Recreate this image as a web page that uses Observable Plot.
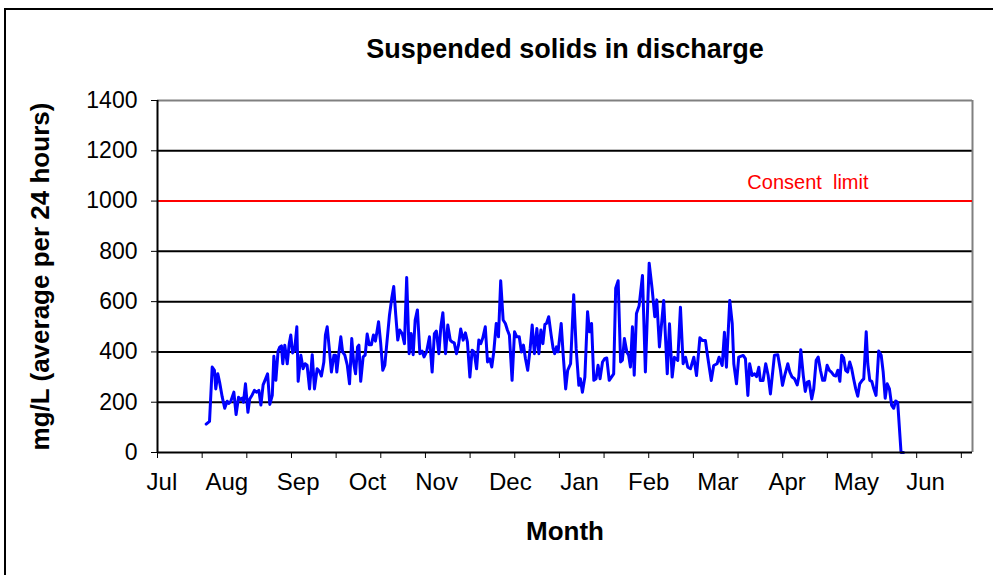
<!DOCTYPE html>
<html>
<head>
<meta charset="utf-8">
<script src="https://cdn.jsdelivr.net/npm/d3@7"></script>
<script src="https://cdn.jsdelivr.net/npm/@observablehq/plot@0.6"></script>
<style>
  html, body { margin: 0; padding: 0; background: #fff; overflow: hidden; }
  #wrap { position: relative; width: 993px; height: 575px; overflow: hidden; background: #fff; }
  #frame { position: absolute; left: 4px; top: 8px; width: 1100px; height: 700px; border: 2px solid #000; box-sizing: border-box; pointer-events: none; }
  #chart { position: absolute; left: 0; top: 0; }
</style>
</head>
<body>
<div id="wrap"><div id="chart"></div><div id="frame"></div></div>
<script>
// Days since 1 July, and suspended solids (mg/L, average per 24 hours)
const days = [
  21.8,23.3,24.5,25.5,26.1,27.0,27.8,29.0,30.1,31.2,31.9,32.8,34.2,35.2,36.3,37.2,37.9,38.5,39.4,40.5,
  41.3,42.4,43.4,44.3,45.4,46.3,47.3,48.4,49.3,50.3,51.4,52.1,53.0,54.0,54.8,55.5,56.1,57.0,58.1,59.0,
  59.7,60.5,61.4,62.4,63.0,64.2,65.2,66.1,67.0,68.1,69.3,70.3,
  71.5,72.5,73.4,74.5,75.2,76.0,77.0,77.9,79.0,79.7,80.3,81.2,82.1,82.9,83.9,85.0,86.0,87.0,87.9,88.7,
  89.6,90.2,91.0,92.1,93.0,93.9,94.8,95.8,96.7,97.6,99.0,99.9,100.9,101.8,102.9,103.9,104.9,105.8,106.7,107.6,
  108.5,109.6,110.6,111.6,112.7,113.6,114.5,115.4,116.4,117.5,118.5,119.4,120.5,121.8,
  123.0,124.0,124.9,126.0,126.9,127.8,129.0,130.0,131.1,131.9,132.9,133.9,134.8,135.8,136.9,137.9,138.8,139.9,140.9,141.8,
  142.9,143.9,144.8,145.7,146.8,147.8,148.8,149.7,150.6,151.7,152.7,153.7,154.8,155.8,156.7,157.6,158.8,159.9,160.9,162.0,
  163.0,163.9,164.8,165.8,166.9,167.8,168.8,169.9,170.8,171.7,172.6,173.5,
  174.2,175.2,176.3,177.2,177.9,178.7,179.4,180.8,181.7,182.8,183.7,185.0,186.4,187.5,188.7,189.4,190.3,191.4,192.6,193.5,
  194.4,195.4,196.4,197.3,198.2,199.3,200.3,201.2,202.3,203.3,204.3,205.2,206.3,207.4,208.2,209.1,210.2,211.0,211.8,212.7,
  213.5,214.5,215.7,217.2,218.5,220.2,221.5,222.7,223.6,224.8,
  226.7,228.3,229.3,230.5,231.5,233.0,234.2,235.4,236.5,237.5,238.7,240.2,241.4,242.9,244.1,245.4,246.2,248.0,249.1,250.6,
  251.5,252.9,253.9,254.8,256.3,257.4,258.1,259.3,260.3,262.3,263.3,264.4,265.2,266.3,267.4,268.3,269.3,270.0,271.2,272.4,
  273.5,274.5,
  276.3,277.8,279.0,279.9,280.9,282.3,283.2,284.2,285.3,286.5,287.2,288.1,289.2,290.1,291.0,291.8,293.0,293.9,295.0,295.9,
  296.9,297.9,298.8,299.9,300.9,301.8,302.9,303.8,304.7,305.6,306.4,307.3,308.2,309.1,310.0,310.9,311.8,312.7,313.6,314.5,
  315.6,316.3,317.4,318.1,319.0,319.9,320.8,321.8,323.0,324.1,325.0,325.9,326.8,327.8,328.8,329.7,330.6,331.5,333.0,334.1
];
const values = [
  113,124,340,327,253,313,280,220,176,204,195,203,240,151,220,211,216,200,273,160,
  213,229,247,240,247,189,269,293,313,191,227,383,287,403,420,424,353,427,353,433,
  467,396,407,500,283,387,333,353,347,253,389,253,
  333,323,304,360,467,500,407,320,387,387,320,393,460,400,387,347,273,453,353,313,
  420,427,283,380,387,471,429,429,467,443,520,440,327,347,453,547,613,660,547,447,
  487,473,433,696,393,473,389,527,567,393,403,380,400,460,
  320,473,483,393,500,556,393,507,447,440,436,393,427,491,447,476,440,300,407,400,
  333,447,433,456,500,360,373,340,400,513,460,683,527,513,487,467,287,480,460,460,
  400,427,373,327,413,507,393,493,393,487,433,510,
  513,540,467,413,393,420,400,513,387,253,327,353,627,413,267,293,240,300,560,480,
  513,287,293,347,293,360,373,376,287,300,313,653,683,360,367,453,400,387,340,500,
  307,553,584,704,320,753,653,540,607,420,
  605,313,512,300,379,366,578,353,379,339,333,379,306,456,445,445,393,286,346,353,
  379,346,478,339,605,512,353,273,379,386,373,227,353,306,313,302,339,286,286,353,
  306,233,
  387,389,327,267,307,353,320,300,293,269,300,409,307,243,280,283,213,253,367,380,
  327,287,287,347,327,320,307,304,327,283,387,376,327,320,360,333,291,253,224,273,
  287,293,480,353,287,283,253,227,404,387,320,216,273,253,187,176,205,199,0,0
];
const monthLabels = ["Jul","Aug","Sep","Oct","Nov","Dec","Jan","Feb","Mar","Apr","May","Jun"];
const monthLabelDays = [2,31,63,94,125,158,189,220,251,282,313,344];
const xTickDays = [0,20,40,60,80,100,120,140,160,180,200,220,240,260,280,300,320,340,360];
const yTicks = [0,200,400,600,800,1000,1200,1400];
const gridValues = [200,400,600,800,1200];
const consentLimit = 1000;
const consentLabel = "Consent  limit";

const data = days.map((d, i) => ({day: d, value: values[i]}));

const chart = Plot.plot({
  width: 993,
  height: 575,
  marginLeft: 157,
  marginRight: 21,
  marginTop: 100,
  marginBottom: 123,
  style: {fontFamily: "'Liberation Sans', Arial, sans-serif", background: "#fff", color: "#000"},
  x: {type: "linear", domain: [0, 365]},
  y: {domain: [0, 1400]},
  marks: [
    Plot.ruleY(gridValues, {stroke: "#000", strokeWidth: 2}),
    Plot.ruleY([1400], {stroke: "#808080", strokeWidth: 2}),
    Plot.ruleX([365], {stroke: "#808080", strokeWidth: 2}),
    Plot.ruleY([consentLimit], {stroke: "#ff0000", strokeWidth: 2}),
    Plot.text([consentLabel], {y: () => consentLimit, frameAnchor: "right", textAnchor: "end", lineAnchor: "middle", dx: -104, dy: -18, fill: "#ff0000", fontSize: 20}),
    Plot.lineY(data, {x: "day", y: "value", stroke: "#0000ff", strokeWidth: 3, strokeLinejoin: "round"}),
    Plot.ruleX([0], {stroke: "#000", strokeWidth: 2}),
    Plot.ruleY([0], {stroke: "#000", strokeWidth: 2}),
    Plot.axisY({ticks: yTicks, tickSize: 6, tickPadding: 14, fontSize: 23, label: null, tickFormat: d => String(d)}),
    Plot.axisX({ticks: xTickDays, tickSize: 6, tickFormat: () => "", label: null}),
    Plot.text(monthLabels, {x: (d, i) => monthLabelDays[i], frameAnchor: "bottom", lineAnchor: "middle", dy: 30, fontSize: 24, fill: "#000"}),
    Plot.text(["Suspended solids in discharge"], {frameAnchor: "top", lineAnchor: "middle", dy: -51, fontSize: 27, fontWeight: "bold"}),
    Plot.text(["mg/L (average per 24 hours)"], {frameAnchor: "left", textAnchor: "middle", lineAnchor: "middle", rotate: -90, dx: -117, fontSize: 26, fontWeight: "bold"}),
    Plot.text(["Month"], {frameAnchor: "bottom", lineAnchor: "middle", dy: 79, fontSize: 26, fontWeight: "bold"})
  ]
});
document.getElementById("chart").appendChild(chart);
</script>
</body>
</html>
